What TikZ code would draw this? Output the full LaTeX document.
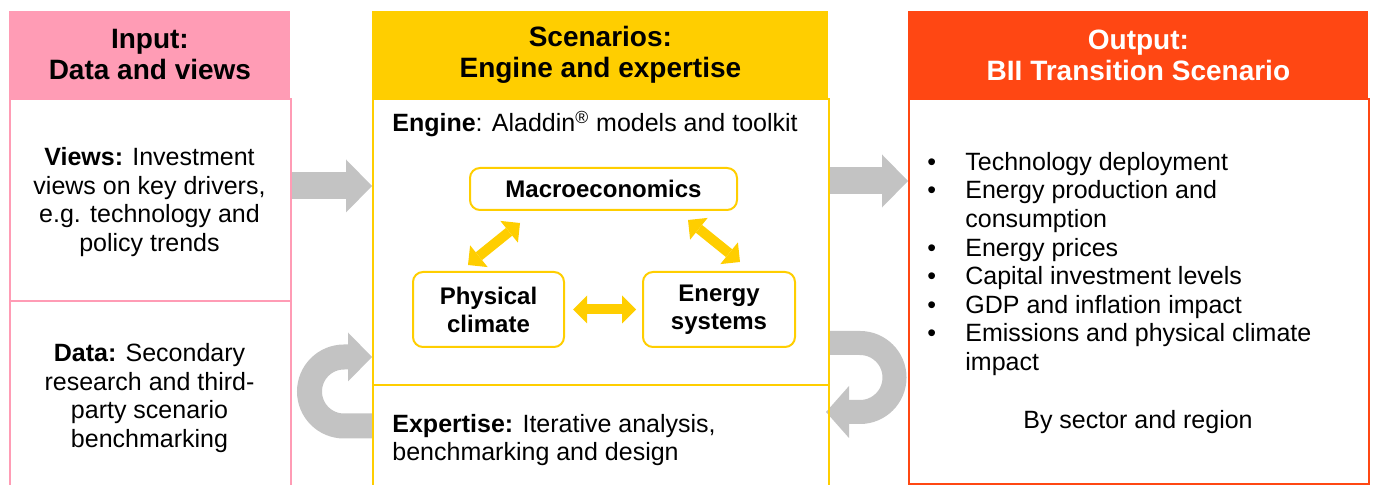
\documentclass[tikz,border=0pt]{standalone}
\usepackage{fontspec}
\setmainfont{Liberation Sans}
\usepackage{tikz}
\usetikzlibrary{arrows.meta,backgrounds}

\definecolor{inpink}{HTML}{FF9CB5}
\definecolor{scenyellow}{HTML}{FFCE00}
\definecolor{outred}{HTML}{FF4713}
\definecolor{arrowgray}{HTML}{C3C3C3}

\newcommand{\bodyfont}{\fontsize{12.5}{14.3}\selectfont}
\newcommand{\bul}{\makebox[19pt][l]{\textbullet}}
\newcommand{\ind}{\hspace*{19pt}}

\begin{document}
\begin{tikzpicture}[x=1pt,y=-1pt,
    colhead/.style={anchor=north west,inner sep=0pt,minimum width=#1,minimum height=43.5pt,
      align=center,font=\fontsize{14}{15.5}\selectfont\bfseries},
    colbody/.style={anchor=north west,inner sep=0pt,minimum width=#1,line width=1pt},
    bodytext/.style={align=center,font=\bodyfont},
    engbox/.style={draw=scenyellow,line width=1pt,rounded corners=5pt,align=center,
      font=\fontsize{12}{14}\selectfont\bfseries},
    bigarrow/.style n args={3}{draw=arrowgray,line width=#1,
      -{Triangle[length=#2,width=#3,line width=0pt]}},
    dblarrow/.style={draw=scenyellow,line width=5pt,
      {Triangle[length=7pt,width=14pt,line width=0pt]}-{Triangle[length=7pt,width=14pt,line width=0pt]}}]
  \useasboundingbox (0,0) rectangle (687,242.5);

  % input column
  \node[colhead=140.5pt,fill=inpink] (inhead) at (4.5,5.5) {Input:\\Data and views};
  \node[colbody=140.5pt,draw=inpink,minimum height=200pt] (inbody) at (4.5,49) {};
  \draw[inpink,line width=1pt] (inbody.west |- 0,150.5) -- (inbody.east |- 0,150.5);
  \node[bodytext] (views) at (74.75,101) {\textbf{Views:} Investment\\views on key drivers,\\e.g. technology and\\policy trends};
  \node[bodytext] (data) at (74.75,199) {\textbf{Data:} Secondary\\research and third-\\party scenario\\benchmarking};

  % scenarios column
  \node[colhead=228pt,fill=scenyellow] (scenhead) at (186,5.5) {Scenarios:\\Engine and expertise};
  \node[colbody=228pt,draw=scenyellow,minimum height=200pt] (scenbody) at (186,49) {};
  \draw[scenyellow,line width=1pt] (scenbody.west |- 0,192.5) -- (scenbody.east |- 0,192.5);
  \node[anchor=base west,inner sep=0pt,font=\bodyfont] (engine) at (196,66) {\textbf{Engine}: Aladdin\textsuperscript{\textregistered} models and toolkit};
  \node[anchor=west,inner sep=0pt,align=left,font=\bodyfont] (expertise) at (196,220) {\textbf{Expertise:} Iterative analysis,\\benchmarking and design};

  \node[engbox,minimum width=133.5pt,minimum height=21pt] (macro) at (301.75,94.5) {Macroeconomics};
  \node[engbox,minimum width=75.5pt,minimum height=37.5pt] (phys) at (244.25,154.75) {Physical\\climate};
  \node[engbox,minimum width=76pt,minimum height=37.5pt] (energy) at (359.5,154.75) {Energy\\systems};
  \draw[dblarrow,shorten <=4pt,shorten >=3pt] (phys.east) -- (energy.west);
  \coordinate (pm) at (234,132.5);
  \coordinate (mp) at (260,111.5);
  \coordinate (me) at (344,110);
  \coordinate (em) at (370,131);
  \draw[dblarrow] (pm) -- (mp);
  \draw[dblarrow] (me) -- (em);

  % output column
  \node[colhead=230pt,fill=outred,text=white] (outhead) at (454,5.5) {Output:\\BII Transition Scenario};
  \node[colbody=230pt,draw=outred,line width=1.2pt,minimum height=192.5pt] (outbody) at (454,49) {};
  \node[anchor=west,inner sep=0pt,align=left,font=\bodyfont] (outlist) at (463.5,132)
    {\bul Technology deployment\\\bul Energy production and\\\ind consumption\\\bul Energy prices\\
     \bul Capital investment levels\\\bul GDP and inflation impact\\\bul Emissions and physical climate\\\ind impact};
  \node[font=\bodyfont] (bysector) at (569,211) {By sector and region};

  % grey flow arrows
  \begin{pgfonlayer}{background}
    \draw[bigarrow={13.5pt}{13pt}{26.5pt}] (inbody.east |- 0,93) -- (scenbody.west |- 0,93);
    \draw[bigarrow={13.5pt}{13pt}{26.5pt}] (scenbody.east |- 0,90.5) -- (outbody.west |- 0,90.5);
    \draw[bigarrow={12.5pt}{12pt}{24.5pt}] (scenbody.west |- 0,213) -- ++(-14,0) arc (90:270:17.25) -- (scenbody.west |- 0,178.5);
    \draw[bigarrow={12pt}{11.5pt}{26pt},shorten >=-2pt] (scenbody.east |- 0,171.5) -- ++(15,0) arc (-90:90:17.25) -- (scenbody.east |- 0,206);
  \end{pgfonlayer}
\end{tikzpicture}
\end{document}
